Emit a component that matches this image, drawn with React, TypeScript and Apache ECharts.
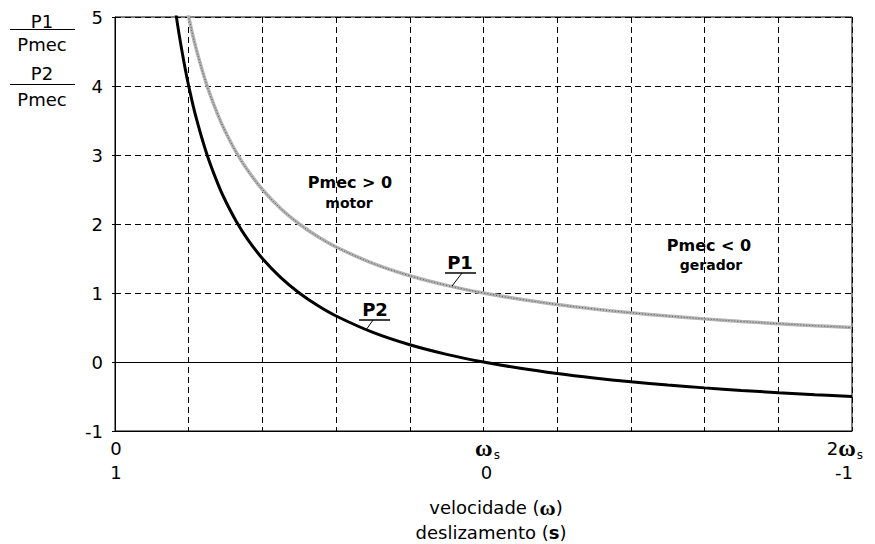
import React, { useEffect, useRef } from "react";
import * as echarts from "echarts";

// speed in units of synchronous speed (omega / omega_s)
const X_VALUES = [0.15, 0.17, 0.19, 0.2, 0.22, 0.25, 0.28, 0.3, 0.33, 0.36, 0.4, 0.45, 0.5, 0.55, 0.6, 0.7, 0.8, 0.9, 1.0, 1.1, 1.2, 1.3, 1.4, 1.5, 1.6, 1.7, 1.8, 1.9, 2.0];
// P1 / Pmec
const P1_VALUES = [null, 5.88, 5.26, 5.0, 4.545, 4.0, 3.571, 3.333, 3.03, 2.778, 2.5, 2.222, 2.0, 1.818, 1.667, 1.429, 1.25, 1.111, 1.0, 0.909, 0.833, 0.769, 0.714, 0.667, 0.625, 0.588, 0.556, 0.526, 0.5];
// P2 / Pmec
const P2_VALUES = [5.667, 4.882, 4.263, 4.0, 3.545, 3.0, 2.571, 2.333, 2.03, 1.778, 1.5, 1.222, 1.0, 0.818, 0.667, 0.429, 0.25, 0.111, 0.0, -0.091, -0.167, -0.231, -0.286, -0.333, -0.375, -0.412, -0.444, -0.474, -0.5];

const Y_MIN = -1;
const Y_MAX = 5;
const Y_STEP = 1;
const X_MIN = 0;
const X_MAX = 2;
const X_STEP = 0.2;

const X_TICK_VALUES = [0, 1, 2];
const X_TICK_SPEED = ["0", "{w|ω}{s|s}", "2{w|ω}{s|s}"];
const X_TICK_SLIP = ["1", "0", "-1"];

const FONT = "DejaVu Sans";
const OMEGA_FONT = "Liberation Serif";

export default function App() {
  const ref = useRef<HTMLDivElement>(null);

  useEffect(() => {
    document.body.style.margin = "0";
    const chart = echarts.init(ref.current!, null, { renderer: "svg" });
    const gridLine = { color: "#000", width: 1, type: [6, 4] as any };
    const p1 = X_VALUES.map((x, i) => [x, P1_VALUES[i]]);
    const p2 = X_VALUES.map((x, i) => [x, P2_VALUES[i]]);

    chart.setOption({
      animation: false,
      backgroundColor: "#fff",
      textStyle: { fontFamily: FONT },
      grid: {
        left: 115,
        right: 23,
        top: 17,
        bottom: 113,
        show: true,
        borderColor: "#000",
        borderWidth: 1,
        backgroundColor: "transparent",
      },
      xAxis: {
        type: "value",
        min: X_MIN,
        max: X_MAX,
        interval: X_STEP,
        axisLine: { onZero: false, lineStyle: { color: "#000", width: 1 } },
        axisTick: { show: false },
        axisLabel: { show: false },
        splitLine: { show: true, lineStyle: gridLine },
      },
      yAxis: {
        type: "value",
        min: Y_MIN,
        max: Y_MAX,
        interval: Y_STEP,
        axisLine: { show: true, lineStyle: { color: "#000", width: 1 } },
        axisTick: { show: true, inside: false, length: 3, lineStyle: { color: "#000" } },
        axisLabel: { color: "#000", fontSize: 18, margin: 12, fontFamily: FONT },
        splitLine: { show: true, lineStyle: gridLine },
      },
      series: [
        {
          name: "P1",
          type: "line",
          data: p1,
          showSymbol: false,
          smooth: 0.4,
          lineStyle: { color: "#b4b4b4", width: 3.5 },
          z: 3,
          silent: true,
        },
        {
          name: "P1 texture",
          type: "line",
          data: p1,
          showSymbol: false,
          smooth: 0.4,
          lineStyle: { color: "#555", width: 1, type: [1, 2] },
          z: 4,
          silent: true,
        },
        {
          name: "P2",
          type: "line",
          data: p2,
          showSymbol: false,
          smooth: 0.4,
          lineStyle: { color: "#000", width: 3 },
          z: 5,
          silent: true,
          markLine: {
            silent: true,
            symbol: "none",
            label: { show: false },
            lineStyle: { color: "#000", width: 1, type: "solid" },
            data: [{ yAxis: 0 }],
          },
        },
      ],
    });

    const graphics: any[] = [];
    const txt = (x: number, y: number, text: string, extra: any = {}) => ({
      type: "text",
      x,
      y,
      style: {
        text,
        fill: "#000",
        fontFamily: FONT,
        fontSize: 18,
        align: "center",
        verticalAlign: "middle",
        ...extra,
      },
    });
    const line = (x1: number, y1: number, x2: number, y2: number, w = 1) => ({
      type: "line",
      shape: { x1, y1, x2, y2 },
      style: { stroke: "#000", lineWidth: w },
    });

    // y axis ratio labels
    graphics.push(txt(42, 21, "P1"));
    graphics.push(line(10, 29.5, 75, 29.5));
    graphics.push(txt(42, 44, "Pmec"));
    graphics.push(txt(42, 73, "P2"));
    graphics.push(line(10, 84.5, 75, 84.5));
    graphics.push(txt(42, 99, "Pmec"));

    // x tick labels
    const rich = {
      w: { fontFamily: OMEGA_FONT, fontSize: 24, fontWeight: "bold", fill: "#000" },
      s: { fontFamily: FONT, fontSize: 12, fill: "#000", padding: [14, 0, 0, 1] },
    };
    X_TICK_VALUES.forEach((v, i) => {
      const px = chart.convertToPixel({ xAxisIndex: 0 }, v) as number;
      const last = i === X_TICK_VALUES.length - 1;
      const sub = X_TICK_SPEED[i].indexOf("{s|") >= 0;
      graphics.push({
        type: "text",
        x: last ? px + 11 : px + (sub ? 4 : 1),
        y: 448,
        style: {
          text: X_TICK_SPEED[i],
          rich,
          fill: "#000",
          fontFamily: FONT,
          fontSize: 18,
          align: last ? "right" : "center",
          verticalAlign: "middle",
        },
      });
      graphics.push(
        txt(last ? px + 1 : px + (sub ? 3 : 1), 472, X_TICK_SLIP[i], { align: last ? "right" : "center" })
      );
    });

    // axis title
    const brich = {
      b: { fontFamily: OMEGA_FONT, fontSize: 22, fontWeight: "bold", fill: "#000" },
      t: { fontFamily: FONT, fontSize: 18, fontWeight: "bold", fill: "#000" },
    };
    graphics.push({
      type: "text",
      x: 496,
      y: 507,
      style: { text: "velocidade ({b|ω})", rich: brich, fill: "#000", fontFamily: FONT, fontSize: 18, align: "center", verticalAlign: "middle" },
    });
    graphics.push({
      type: "text",
      x: 491,
      y: 532,
      style: { text: "deslizamento ({t|s})", rich: brich, fill: "#000", fontFamily: FONT, fontSize: 18, align: "center", verticalAlign: "middle" },
    });

    // region annotations
    graphics.push(txt(350, 182, "Pmec > 0", { fontWeight: "bold", fontSize: 16 }));
    graphics.push(txt(349, 203, "motor", { fontWeight: "bold", fontSize: 14 }));
    graphics.push(txt(709, 245, "Pmec < 0", { fontWeight: "bold", fontSize: 16 }));
    graphics.push(txt(711, 265, "gerador", { fontWeight: "bold", fontSize: 14 }));

    // curve labels
    graphics.push(txt(460, 262, "P1", { fontWeight: "bold", fontSize: 18 }));
    graphics.push(line(445, 273, 476, 273, 1.5));
    graphics.push(line(462, 273, 452, 286, 1));
    graphics.push(txt(375, 309, "P2", { fontWeight: "bold", fontSize: 18 }));
    graphics.push(line(359, 320, 390, 320, 1.5));
    graphics.push(line(373, 320, 366, 330, 1));

    chart.setOption({ graphic: graphics.map((g) => ({ ...g, z: 100 })) });

    return () => chart.dispose();
  }, []);

  return <div ref={ref} style={{ width: 875, height: 544 }} />;
}
